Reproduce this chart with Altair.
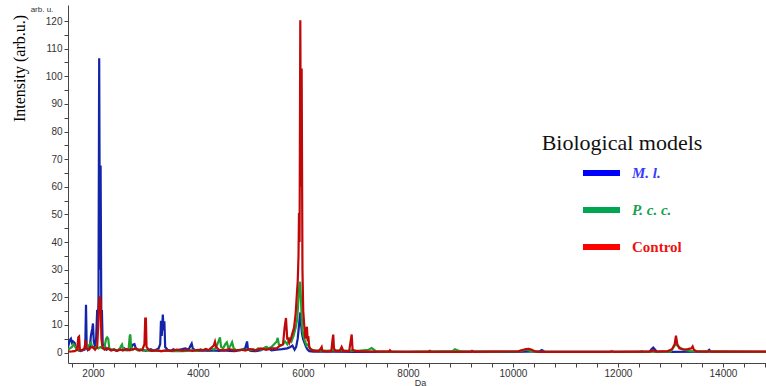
import altair as alt
import pandas as pd

# ---------------- data ----------------
series_names = ["M. l.", "P. c. c.", "Control"]
line_colors = ["#1424a8", "#20a030", "#c00808"]
legend_line_colors = ["#0000ff", "#00a651", "#ff0000"]
legend_text_colors = ["#3a3aff", "#17a050", "#ee1111"]

blue_mz = [1524, 1560, 1580, 1600, 1620, 1650, 1680, 1720, 1760, 1800, 1840, 1855, 1867, 1880, 1900,
           1940, 1960, 1985, 2000, 2015, 2040, 2060, 2080, 2095, 2105, 2118, 2132, 2145, 2158, 2170,
           2185, 2220, 2260, 2300, 2350, 2400, 2450, 2500, 2560, 2600, 2650, 2700, 2760, 2790, 2820,
           2880, 2950, 3000, 3050, 3100, 3150, 3200, 3250, 3280, 3295, 3310, 3330, 3345, 3360, 3375,
           3420, 3480, 3530, 3580, 3640, 3700, 3760, 3820, 3860, 3880, 3900, 3950, 4000, 4100, 4200,
           4300, 4400, 4500, 4600, 4700, 4800, 4900, 4920, 4935, 4950, 5000, 5100, 5200, 5300, 5340,
           5400, 5500, 5600, 5700, 5760, 5800, 5840, 5870, 5900, 5930, 5950, 5965, 5980, 6000, 6030,
           6060, 6090, 6120, 6200, 6400, 6600, 7000, 8000, 9000, 10000, 10500, 10550, 10600, 11000,
           12000, 12600, 12640, 12672, 12700, 12740, 13000, 13700, 13739, 13770, 14820]
blue_int = [2, 4.5, 5, 3.5, 4, 3.5, 1.5, 0.8, 0.5, 0.8, 1, 4, 17.3, 2, 1,
            2, 6, 8.5, 10.5, 4, 2, 5, 15.5, 8, 20, 106.5, 30, 67.7, 15, 15,
            3, 2.5, 1, 1.5, 0.8, 1, 0.6, 1.2, 0.8, 1.5, 0.8, 1, 2.8, 3, 1.2,
            0.8, 1, 0.6, 0.8, 1.2, 0.7, 1, 1.5, 3, 11.5, 6, 13.7, 8, 11.3, 2,
            1, 0.6, 1.2, 0.7, 1, 1.2, 1.5, 1, 2.5, 3.2, 1.5, 0.8, 0.6, 0.8, 0.6,
            0.8, 0.6, 0.8, 0.6, 0.5, 0.8, 1.5, 3, 4, 1.5, 0.6, 0.5, 0.8, 2, 1.5,
            0.8, 1, 1.2, 1.5, 2, 2.5, 1, 2, 5, 11, 14.5, 10, 7, 5, 3.5,
            2, 1, 0.5, 0.3, 0.4, 0.3, 0.2, 0.2, 0.3, 0.2, 0.4, 0.9, 0.3, 0.2,
            0.2, 0.3, 1.2, 1.8, 1.2, 0.3, 0.2, 0.3, 1, 0.3, 0.2]

green_mz = [1524, 1560, 1600, 1630, 1650, 1690, 1740, 1800, 1850, 1900, 1940, 1962, 1985, 2020, 2060,
            2100, 2140, 2180, 2220, 2250, 2270, 2290, 2310, 2360, 2400, 2440, 2500, 2540, 2553, 2570,
            2620, 2680, 2700, 2712, 2725, 2760, 2800, 2850, 2900, 2950, 3000, 3100, 3200, 3300, 3400,
            3500, 3600, 3700, 3800, 3900, 4000, 4050, 4100, 4150, 4200, 4250, 4300, 4350, 4400, 4419,
            4440, 4480, 4520, 4550, 4580, 4620, 4650, 4680, 4720, 4800, 4850, 4900, 4950, 5000, 5050,
            5100, 5150, 5200, 5250, 5300, 5340, 5400, 5450, 5500, 5518, 5540, 5580, 5620, 5660, 5700,
            5740, 5780, 5820, 5860, 5890, 5910, 5930, 5945, 5960, 5975, 5990, 6010, 6040, 6070, 6100,
            6130, 6180, 6250, 6350, 6450, 6550, 6650, 6750, 6850, 6950, 7050, 7150, 7250, 7309, 7350,
            7400, 7600, 8000, 8400, 8430, 8460, 8850, 8895, 8930, 8980, 9050, 9600, 10100, 10250, 10350,
            10400, 12400, 12450, 12500, 13000, 13100, 13200, 13300, 13400, 14820]
green_int = [1, 1.5, 2, 3, 2.5, 1, 0.8, 1, 1.5, 2, 3, 3.6, 2, 1.5, 2,
             1.5, 2, 1.5, 2, 5, 5.5, 5, 1.5, 1, 1.2, 0.8, 1, 2.5, 2.9, 1.5,
             0.8, 1.5, 6, 6.5, 2, 1, 1.5, 0.8, 1.2, 0.6, 0.8, 0.6, 0.8, 0.5, 0.7,
             0.5, 0.6, 0.5, 0.6, 0.8, 0.6, 1.2, 0.8, 1.3, 0.7, 1.5, 1, 2, 4.5, 5.5,
             2, 1.5, 3, 3.7, 1.5, 2.5, 3.7, 1.5, 1, 0.8, 1.2, 0.8, 1, 0.8, 1.2,
             0.8, 1.5, 1, 1.5, 2, 1.5, 2, 3, 4, 5.3, 3, 2.5, 3, 4, 3,
             5, 4, 6, 9, 12, 18, 24, 25.6, 20, 13, 8, 6, 4, 2.5, 3,
             1.5, 1, 0.7, 0.8, 0.6, 0.8, 0.8, 0.8, 0.6, 0.8, 0.6, 0.8, 1, 1.6, 1,
             0.4, 0.3, 0.2, 0.4, 0.6, 0.3, 0.5, 1.2, 0.9, 0.5, 0.3, 0.3, 0.4, 1, 0.5,
             0.2, 0.2, 0.5, 0.2, 0.3, 3, 1.5, 0.8, 0.5, 0.2]

red_mz = [1524, 1600, 1650, 1700, 1720, 1735, 1750, 1800, 1840, 1860, 1875, 1920, 1960, 2000, 2040,
          2080, 2100, 2115, 2130, 2145, 2160, 2180, 2220, 2280, 2340, 2400, 2460, 2520, 2580, 2640,
          2700, 2760, 2820, 2880, 2940, 2980, 2995, 3008, 3020, 3060, 3120, 3200, 3300, 3400, 3500,
          3600, 3700, 3800, 3900, 4000, 4100, 4150, 4200, 4300, 4324, 4345, 4400, 4500, 4600, 4700,
          4800, 4900, 5000, 5100, 5200, 5300, 5400, 5500, 5560, 5620, 5650, 5676, 5700, 5720, 5740,
          5770, 5800, 5830, 5860, 5880, 5900, 5915, 5924, 5935, 5949, 5962, 5975, 5990, 6005, 6030,
          6045, 6057, 6075, 6090, 6101, 6120, 6150, 6200, 6300, 6340, 6356, 6370, 6450, 6540, 6565,
          6577, 6590, 6620, 6700, 6737, 6770, 6880, 6915, 6928, 6945, 7000, 7300, 7640, 7657, 7680,
          8000, 8400, 8410, 8430, 9200, 9220, 9250, 9600, 10100, 10180, 10250, 10300, 10360, 10420, 10500,
          11850, 11880, 11910, 12600, 12680, 12720, 12950, 13030, 13080, 13105, 13130, 13170, 13250, 13330, 13400,
          13423, 13445, 13500, 13700, 14820]
red_int = [0.3, 0.4, 0.5, 1, 5.5, 5.8, 1, 0.8, 1.5, 4.5, 1.5, 1, 1.8, 2, 1,
           2, 10, 18, 20.3, 19, 5, 2, 1, 1.5, 0.8, 1, 0.6, 1, 0.8, 1.2,
           0.8, 1.2, 1.5, 0.8, 1, 3, 12.3, 12.3, 2, 1, 0.6, 0.8, 0.5, 0.8, 0.6,
           1, 0.7, 0.9, 0.6, 1, 0.8, 1.3, 0.8, 2.5, 3.9, 2, 1, 0.8, 1.2, 0.7,
           1, 0.8, 1.2, 0.8, 1.5, 1, 1.5, 1.5, 2.5, 3, 9, 12.5, 5, 5, 3.5,
           5, 7, 9, 14, 20, 25.8, 35, 50.5, 40, 120.3, 60, 102.8, 30, 15, 8.3,
           5, 8.3, 9.3, 4, 5.9, 2, 1, 0.7, 0.5, 1.5, 2, 0.6, 0.4, 0.5, 5,
           6.5, 1.5, 0.5, 0.6, 2, 0.5, 0.5, 5, 6.5, 1, 0.5, 0.3, 0.3, 0.8, 0.3,
           0.2, 0.2, 0.5, 0.2, 0.2, 0.6, 0.2, 0.3, 0.4, 0.9, 1.2, 1.3, 1, 0.4, 0.2,
           0.2, 0.5, 0.2, 0.3, 0.8, 0.3, 0.5, 1.2, 3, 6.1, 3, 1.5, 1, 1.2, 1.5,
           2.2, 1, 0.4, 0.3, 0.3]

x_tick_values = [1600, 2000, 2400, 2800, 3200, 3600, 4000, 4400, 4800, 5200, 5600, 6000, 6400, 6800,
                 7200, 7600, 8000, 8400, 8800, 9200, 9600, 10000, 10400, 10800, 11200, 11600, 12000,
                 12400, 12800, 13200, 13600, 14000, 14400, 14800]
y_tick_values = [0, 5, 10, 15, 20, 25, 30, 35, 40, 45, 50, 55, 60, 65, 70, 75, 80, 85, 90, 95, 100,
                 105, 110, 115, 120]

x_domain = [1524, 14820]
y_domain = [-3.8, 125.8]

legend_title = "Biological models"
y_title = "Intensity (arb.u.)"
x_title = "Da"
unit_label = "arb. u."

# ---------------- chart ----------------
W, H = 698, 358
AX = "#444444"

x_enc = alt.X(
    "mz:Q",
    scale=alt.Scale(domain=x_domain, nice=False, zero=False),
    axis=alt.Axis(
        values=x_tick_values,
        labelExpr="datum.value % 2000 == 0 ? format(datum.value, 'd') : ''",
        title=x_title, titleX=352, titleY=19, titleAlign="center", titleBaseline="middle",
        titleFont="Liberation Sans", titleFontSize=9, titleFontWeight="normal", titleColor="#333333",
        grid=False, tickSize=4, tickColor=AX, domainColor=AX, labelPadding=1,
        labelFont="Liberation Sans", labelFontSize=10, labelColor="#333333",
        labelOverlap=False, labelFlush=False,
    ),
)
y_enc = alt.Y(
    "inten:Q",
    scale=alt.Scale(domain=y_domain, nice=False, zero=False),
    axis=alt.Axis(
        values=y_tick_values,
        labelExpr="datum.value % 10 == 0 ? format(datum.value, 'd') : ''",
        title=y_title, titleX=-49, titleY=63, titleAngle=270, titleAlign="center",
        titleBaseline="middle", titleFont="Liberation Serif", titleFontSize=16,
        titleFontWeight="normal", titleColor="#000000",
        grid=False, tickSize=4, tickColor=AX, domainColor=AX, labelPadding=2,
        labelFont="Liberation Sans", labelFontSize=10, labelColor="#333333",
        labelOverlap=False,
    ),
)

spectra = [
    pd.DataFrame({"mz": blue_mz, "inten": blue_int}),
    pd.DataFrame({"mz": green_mz, "inten": green_int}),
    pd.DataFrame({"mz": red_mz, "inten": red_int}),
]

layers = []
for df, col in zip(spectra, line_colors):
    layers.append(
        alt.Chart(df).mark_line(color=col, strokeWidth=2.2, clip=True, interpolate="linear",
                                strokeJoin="miter")
        .encode(x=x_enc, y=y_enc, order="mz:Q")
    )

one = pd.DataFrame({"t": [legend_title]})
layers.append(
    alt.Chart(one).mark_text(font="Liberation Serif", fontSize=22, color="#111111",
                             align="center", baseline="middle")
    .encode(text="t:N", x=alt.value(554), y=alt.value(138))
)
layers.append(
    alt.Chart(pd.DataFrame({"t": [unit_label]})).mark_text(
        font="Liberation Sans", fontSize=8, color="#333333", align="center", baseline="middle")
    .encode(text="t:N", x=alt.value(-26), y=alt.value(5))
)

legend_y = [168, 205, 242]
for i, name in enumerate(series_names):
    layers.append(
        alt.Chart(pd.DataFrame({"t": [name]})).mark_rule(
            color=legend_line_colors[i], strokeWidth=6)
        .encode(x=alt.value(515), x2=alt.value(552), y=alt.value(legend_y[i]))
    )
    layers.append(
        alt.Chart(pd.DataFrame({"t": [name]})).mark_text(
            font="Liberation Serif", fontSize=15, fontWeight="bold",
            fontStyle="italic" if i < 2 else "normal",
            color=legend_text_colors[i], align="left", baseline="middle")
        .encode(text="t:N", x=alt.value(564), y=alt.value(legend_y[i]))
    )

chart = (
    alt.layer(*layers)
    .properties(width=W, height=H, autosize=alt.AutoSizeParams(type="none"),
                padding={"left": 68, "top": 5, "right": 0, "bottom": 23},
                background="white")
    .configure_view(stroke=None)
)

chart.save("out.html", embed_options={"renderer": "svg", "actions": False})
